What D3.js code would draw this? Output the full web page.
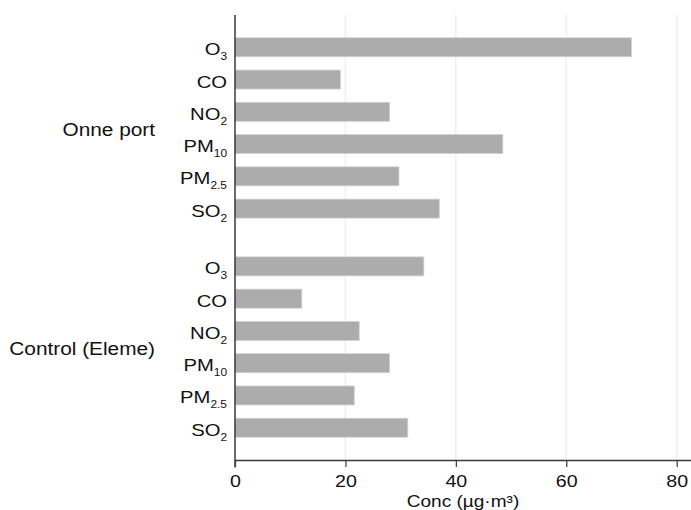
<!DOCTYPE html>
<html>
<head>
<meta charset="utf-8">
<script src="https://cdn.jsdelivr.net/npm/d3@7"></script>
<style>
  html, body { margin: 0; padding: 0; background: #fff; }
  svg { display: block; font-family: "Liberation Sans", Arial, sans-serif; }
</style>
</head>
<body>
<svg id="chart" width="691" height="510"></svg>
<script>
// ---- data ----
const groups = ["Onne port", "Control (Eleme)"];
const pollutants = [
  { base: "O", sub: "3" },
  { base: "CO", sub: "" },
  { base: "NO", sub: "2" },
  { base: "PM", sub: "10" },
  { base: "PM", sub: "2.5" },
  { base: "SO", sub: "2" }
];
const onneValues = [71.8, 19.1, 28.0, 48.5, 29.7, 37.0];
const controlValues = [34.2, 12.1, 22.5, 28.0, 21.6, 31.3];
const xTicks = [0, 20, 40, 60, 80];
const xTitle = "Conc (µg·m³)";

// ---- layout ----
const svg = d3.select("#chart");
const pLeft = 235, pRight = 691, pTop = 15, pBottom = 460;
const groupGap = 0.79; // extra rows between groups
const sx = 1.19;       // horizontal text stretch seen in the reference

const x = d3.scaleLinear().domain([0, 80]).range([pLeft, 676.7]);
const y = d3.scaleLinear().domain([-1, 11 + groupGap + 1]).range([pTop, pBottom]);

const rows = [];
[onneValues, controlValues].forEach((vals, g) => {
  vals.forEach((v, i) => {
    rows.push({ g, i, v, p: pollutants[i], pos: g * (6 + groupGap) + i });
  });
});

// gridlines
svg.append("g").selectAll("line")
  .data(xTicks.filter(t => t > 0))
  .join("line")
  .attr("x1", d => x(d)).attr("x2", d => x(d))
  .attr("y1", pTop).attr("y2", pBottom)
  .attr("stroke", "#eaf0f3").attr("stroke-width", 1.5);

// bars
const barH = 19;
svg.append("g").selectAll("rect")
  .data(rows)
  .join("rect")
  .attr("x", x(0))
  .attr("y", d => y(d.pos) - barH / 2)
  .attr("width", d => x(d.v) - x(0))
  .attr("height", barH)
  .attr("fill", "#acacac")
  .attr("stroke", "#d2d2d2")
  .attr("stroke-width", 0.8);

// category labels
const cat = svg.append("g").selectAll("text")
  .data(rows)
  .join("text")
  .attr("transform", d => `translate(227,${y(d.pos) + 8}) scale(${sx},1)`)
  .attr("text-anchor", "end")
  .attr("font-size", 17)
  .attr("fill", "#111");
cat.append("tspan").text(d => d.p.base);
cat.filter(d => d.p.sub).append("tspan")
  .attr("font-size", 10)
  .attr("dy", 5)
  .text(d => d.p.sub);

// group labels
svg.append("g").selectAll("text")
  .data(groups)
  .join("text")
  .attr("transform", (d, g) => `translate(155,${y(g * (6 + groupGap) + 2.5) + 8}) scale(${sx},1)`)
  .attr("text-anchor", "end")
  .attr("font-size", 17.5)
  .attr("fill", "#111")
  .text(d => d);

// axes
const axisColor = "#3a3a3a";
svg.append("line")
  .attr("x1", pLeft).attr("x2", pLeft)
  .attr("y1", pTop).attr("y2", 467.5)
  .attr("stroke", axisColor).attr("stroke-width", 1.5);

const xAxis = svg.append("g")
  .attr("transform", `translate(0,${pBottom})`)
  .call(d3.axisBottom(x).tickValues(xTicks).tickSize(7).tickPadding(5).tickSizeOuter(0));
xAxis.select(".domain")
  .attr("d", `M${pLeft},0.5H${pRight}`)
  .attr("stroke", axisColor).attr("stroke-width", 1.5);
xAxis.selectAll(".tick line").attr("stroke", axisColor).attr("stroke-width", 1.2);
xAxis.selectAll(".tick text")
  .attr("y", null).attr("dy", null)
  .attr("transform", `translate(0,26.5) scale(${sx},1)`)
  .attr("font-size", 16.5)
  .attr("font-family", "Liberation Sans, Arial, sans-serif")
  .attr("fill", "#111");

svg.append("text")
  .attr("transform", `translate(${(pLeft + pRight) / 2},506.5) scale(${sx},1)`)
  .attr("text-anchor", "middle")
  .attr("font-size", 16)
  .attr("fill", "#111")
  .text(xTitle);
</script>
</body>
</html>
